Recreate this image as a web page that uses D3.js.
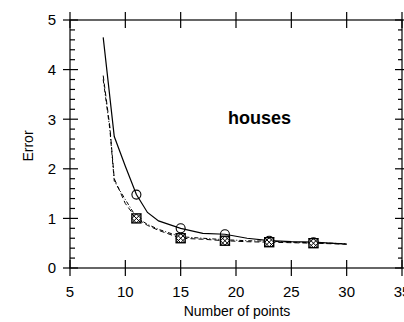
<!DOCTYPE html>
<html><head><meta charset="utf-8">
<script src="https://cdn.jsdelivr.net/npm/d3@7"></script>
<style>body{margin:0;background:#fff}svg{display:block}text{font-family:"Liberation Sans",Arial,sans-serif;fill:#000}</style>
</head><body><svg id="c" width="404" height="322"></svg>
<script>
const xTicks = [5,10,15,20,25,30,35];
const yTicks = [0,1,2,3,4,5];
const yMinor = [0.2,0.4,0.6,0.8,1.2,1.4,1.6,1.8,2.2,2.4,2.6,2.8,3.2,3.4,3.6,3.8,4.2,4.4,4.6,4.8];
const markerX = [11,15,19,23,27];

const solidX = [8,9,10,11,12,13,15,17,19,21,23,25,27,30];
const solidY = [4.65,2.65,2.05,1.48,1.12,0.95,0.80,0.70,0.68,0.60,0.55,0.53,0.52,0.48];
const dashX = [8,8.6,9,10,11,12,13,15,17,19,21,23,25,27,30];
const dashY = [3.88,2.85,1.80,1.30,1.00,0.86,0.76,0.60,0.58,0.55,0.53,0.52,0.51,0.50,0.48];
const dotX = [8,8.6,9,10,11,12,13,15,17,19,21,23,25,27,30];
const dotY = [3.80,2.80,1.75,1.38,1.02,0.88,0.78,0.63,0.60,0.57,0.55,0.54,0.52,0.51,0.49];
const circY = [1.48,0.80,0.68,0.55,0.52];
const sqY = [1.00,0.60,0.55,0.52,0.50];

const xLabel = "Number of points", yLabel = "Error", title = "houses";

const svg = d3.select("#c");
const x = d3.scaleLinear().domain([5,35]).range([70,402]);
const y = d3.scaleLinear().domain([0,5]).range([268,20]);

const g = svg.append("g");
g.append("rect").attr("x",x(5)).attr("y",y(5)).attr("width",x(35)-x(5)).attr("height",y(0)-y(5))
  .attr("fill","none").attr("stroke","#000").attr("stroke-width",1.2);

xTicks.forEach(t=>{
  [y(0),y(5)].forEach(yy=>{
    g.append("line").attr("x1",x(t)).attr("x2",x(t)).attr("y1",yy-8).attr("y2",yy+8)
     .attr("stroke","#000").attr("stroke-width",1.2);
  });
  g.append("text").attr("x",x(t)).attr("y",297).attr("text-anchor","middle")
   .attr("font-size",15).text(t);
});
yTicks.forEach(t=>{
  g.append("line").attr("x1",x(5)-7).attr("x2",x(5)+8).attr("y1",y(t)).attr("y2",y(t)).attr("stroke","#000").attr("stroke-width",1.2);
  g.append("line").attr("x1",x(35)-7).attr("x2",x(35)+7).attr("y1",y(t)).attr("y2",y(t)).attr("stroke","#000").attr("stroke-width",1.2);
  g.append("text").attr("x",56).attr("y",y(t)+5.3).attr("text-anchor","end").attr("font-size",15).text(t);
});
yMinor.forEach(t=>{
  g.append("line").attr("x1",x(5)).attr("x2",x(5)+5).attr("y1",y(t)).attr("y2",y(t)).attr("stroke","#000").attr("stroke-width",1.2);
  g.append("line").attr("x1",x(35)-4).attr("x2",x(35)).attr("y1",y(t)).attr("y2",y(t)).attr("stroke","#000").attr("stroke-width",1.2);
});

const line = d3.line().x(d=>x(d[0])).y(d=>y(d[1]));
g.append("path").attr("d",line(dotX.map((v,i)=>[v,dotY[i]]))).attr("fill","none").attr("stroke","#000")
  .attr("stroke-width",1).attr("stroke-dasharray","4,2,1,2");
g.append("path").attr("d",line(dashX.map((v,i)=>[v,dashY[i]]))).attr("fill","none").attr("stroke","#000")
  .attr("stroke-width",1).attr("stroke-dasharray","5,3");
g.append("path").attr("d",line(solidX.map((v,i)=>[v,solidY[i]]))).attr("fill","none").attr("stroke","#000")
  .attr("stroke-width",1.2);

markerX.forEach((mx,i)=>{
  const cx = x(mx), cy = y(circY[i]);
  g.append("circle").attr("cx",cx).attr("cy",cy).attr("r",4.5).attr("fill","none").attr("stroke","#000").attr("stroke-width",1.1);
  const sx = x(mx), sy = y(sqY[i]), s = 4.5;
  g.append("rect").attr("x",sx-s).attr("y",sy-s).attr("width",2*s).attr("height",2*s)
   .attr("fill","#fff").attr("stroke","#000").attr("stroke-width",1.4);
  g.append("path").attr("d",`M${sx-s},${sy-s}L${sx+s},${sy+s}M${sx+s},${sy-s}L${sx-s},${sy+s}`)
   .attr("stroke","#000").attr("stroke-width",1);
  g.append("path").attr("d",`M${sx},${sy-s}L${sx+s},${sy}L${sx},${sy+s}L${sx-s},${sy}Z`)
   .attr("fill","none").attr("stroke","#000").attr("stroke-width",1);
});

svg.append("text").attr("x",228).attr("y",124).attr("font-size",18).attr("font-weight","bold").text(title);
svg.append("text").attr("transform","translate(33,146) rotate(-90)").attr("text-anchor","middle")
  .attr("font-size",14).text(yLabel);
svg.append("text").attr("x",237).attr("y",316).attr("text-anchor","middle").attr("font-size",14)
  .text(xLabel);
</script></body></html>
